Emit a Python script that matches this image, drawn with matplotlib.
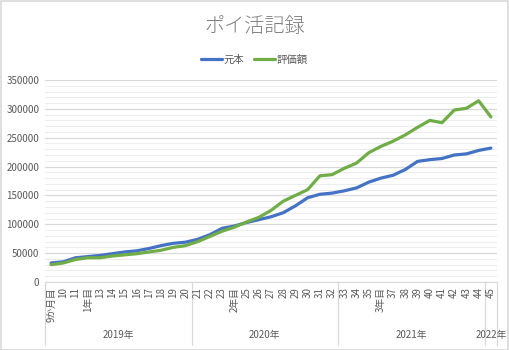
import matplotlib
matplotlib.use("Agg")
import matplotlib.pyplot as plt
import matplotlib.transforms as mtransforms
from matplotlib.patches import Rectangle

plt.rcParams['font.family'] = ['Noto Sans CJK JP', 'DejaVu Sans']

months = ['9か月目', '10', '11', '1年目', '13', '14', '15', '16', '17', '18', '19', '20',
          '21', '22', '23', '2年目', '25', '26', '27', '28', '29', '30', '31', '32',
          '33', '34', '35', '3年目', '37', '38', '39', '40', '41', '42', '43', '44',
          '45']
years = ['2019年', '2020年', '2021年', '2022年']
year_counts = [12, 12, 12, 1]

principal = [33000, 35000, 42000, 44000, 46000, 49000, 52000, 54000, 58000, 63000, 67000, 69000,
             74000, 82000, 93000, 97000, 103000, 108000, 113000, 120000, 132000, 146000, 152000, 154000,
             158000, 163000, 173000, 180000, 185000, 195000, 209000, 212000, 214000, 220000, 222000, 228000,
             232000]
valuation = [30000, 33000, 39000, 42000, 42000, 45000, 47000, 49000, 52000, 55000, 60000, 63000,
             70000, 79000, 88000, 95000, 104000, 112000, 124000, 140000, 150000, 160000, 184000, 186000,
             197000, 206000, 224000, 235000, 244000, 255000, 268000, 280000, 276000, 298000, 301000, 314000,
             286000]

W, H = 509, 350
fig = plt.figure(figsize=(W / 100, H / 100), dpi=100)
fig.patch.set_facecolor('white')
# chart border
fig.add_artist(Rectangle((0.5 / W, 0.5 / H), 1 - 1.5 / W, 1 - 1.5 / H, transform=fig.transFigure,
                         fill=False, edgecolor='#d9d9d9', linewidth=1.2))

left, right, bottom, top = 45, 497, 282, 80
ax = fig.add_axes([left / W, 1 - bottom / H, (right - left) / W, (bottom - top) / H])

x = list(range(len(months)))
ax.plot(x, principal, color='#4472C4', linewidth=2.3, label='元本', solid_capstyle='round')
ax.plot(x, valuation, color='#70AD47', linewidth=2.3, label='評価額', solid_capstyle='round')

ax.set_xlim(-0.5, len(months) - 0.5)
ax.set_ylim(0, 350000)
ax.set_yticks(range(0, 350001, 50000))
ax.set_yticks(range(0, 350001, 10000), minor=True)
ax.yaxis.grid(True, which='major', color='#d9d9d9', linewidth=0.9)
ax.yaxis.grid(True, which='minor', color='#ededed', linewidth=0.8)
ax.set_axisbelow(True)
ax.tick_params(axis='y', which='both', length=0, labelsize=7, labelcolor='#595959', pad=4)
ax.set_xticks([])
for s in ['top', 'right', 'left']:
    ax.spines[s].set_visible(False)
ax.spines['bottom'].set_color('#d9d9d9')

trans = mtransforms.blended_transform_factory(ax.transData, fig.transFigure)
for i, m in enumerate(months):
    ax.text(i, 1 - 287 / H, m, rotation=90, ha='center', va='top', fontsize=7,
            color='#595959', transform=trans, clip_on=False)

# group separators and year labels
bounds = [-0.5]
for c in year_counts:
    bounds.append(bounds[-1] + c)
for b in bounds:
    ax.plot([b, b], [1 - 282 / H, 1 - 345 / H], color='#d9d9d9', linewidth=0.9,
            transform=trans, clip_on=False)
for yname, b0, b1 in zip(years, bounds[:-1], bounds[1:]):
    ax.text((b0 + b1) / 2, 1 - 335 / H, yname, ha='center', va='center', fontsize=7,
            color='#595959', transform=trans, clip_on=False)

fig.text(0.5, 1 - 26 / H, 'ポイ活記録', ha='center', va='center', fontsize=14.5,
         color='#7f7f7f', fontweight='light')
leg = fig.legend(loc='center', bbox_to_anchor=(0.5, 1 - 60 / H), ncol=2, frameon=False,
                 fontsize=7.5, handlelength=2.0, columnspacing=0.9, handletextpad=0.2)
for t in leg.get_texts():
    t.set_color('#595959')

fig.savefig('out.png', dpi=100)
